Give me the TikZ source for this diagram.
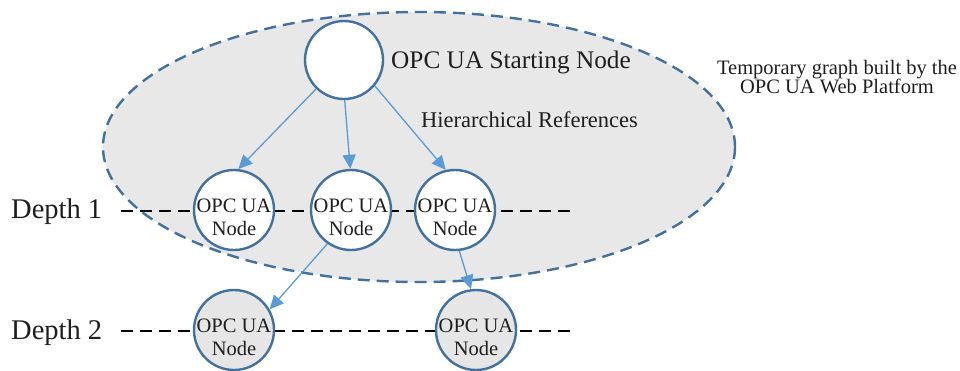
\documentclass[tikz,border=0pt]{standalone}
\usepackage{fontspec}
\setmainfont{Liberation Serif}
\usetikzlibrary{arrows.meta}

\definecolor{rimblue}{HTML}{41719C}
\definecolor{refblue}{HTML}{5B9BD5}
\definecolor{graphfill}{HTML}{E8E8E8}
\definecolor{nodegray}{HTML}{E6E6E6}
\definecolor{ink}{HTML}{1E1E1E}

\begin{document}
\begin{tikzpicture}[x=1pt,y=-1pt,
  every node/.style={text=ink},
  basecircle/.style={circle, draw=rimblue, line width=2.4pt, inner sep=0pt},
  opcnode/.style={basecircle, fill=white, minimum size=80pt,
    label={[font=\fontsize{20.5}{23}\selectfont, text=ink, align=center, yshift=-7pt]center:OPC UA\\Node}},
  deepnode/.style={opcnode, fill=nodegray},
  refarrow/.style={draw=refblue, line width=1.3pt, -{Triangle[length=14pt,width=13pt]}},
  depthline/.style={draw=black, line width=2pt, dash pattern=on 12pt off 7pt},
  depthlabel/.style={anchor=base west, inner sep=0pt, font=\fontsize{28.5}{30}\selectfont},
]
  \useasboundingbox (0,0) rectangle (960,370);

  % temporary graph region
  \path[fill=graphfill] (419,147) ellipse [x radius=316, y radius=135];

  % depth guide lines
  \coordinate (d1l) at (121,211);
  \coordinate (d1r) at (575,211);
  \coordinate (d2l) at (121,331);
  \coordinate (d2r) at (575,331);
  \draw[depthline] (d1l) -- (d1r);
  \draw[depthline] (d2l) -- (d2r);

  \draw[rimblue, line width=2.4pt, dash pattern=on 12pt off 7pt]
    (419,147) ellipse [x radius=316, y radius=135];

  % nodes
  \node[basecircle, fill=white, minimum size=78pt] (start) at (344,60) {};
  \node[opcnode] (a) at (234,210) {};
  \node[opcnode] (b) at (351,210) {};
  \node[opcnode] (c) at (455,210) {};
  \node[deepnode] (d) at (234,330) {};
  \node[deepnode] (e) at (476,330) {};

  % hierarchical references
  \draw[refarrow] (start.-134) -- (a.84);
  \draw[refarrow] (start.-89) -- (b.91);
  \draw[refarrow] (start.-40) -- (c.103);
  \draw[refarrow] (b.-125) -- (d.30);
  \draw[refarrow] (c.-84) -- (e.97);

  % texts
  \node[anchor=base west, inner sep=0pt, font=\fontsize{25.3}{28}\selectfont] (startlabel) at (391,68) {OPC UA Starting Node};
  \node[anchor=base west, inner sep=0pt, font=\fontsize{22.5}{25}\selectfont] (hierlabel) at (421,127) {Hierarchical References};
  \node[anchor=base, inner sep=0pt, align=center, font=\fontsize{20.5}{19}\selectfont] (graphlabel) at (837,93) {Temporary graph built by the\\OPC UA Web Platform};
  \node[depthlabel] (depth1) at (11,218) {Depth 1};
  \node[depthlabel] (depth2) at (11,339) {Depth 2};
\end{tikzpicture}
\end{document}
